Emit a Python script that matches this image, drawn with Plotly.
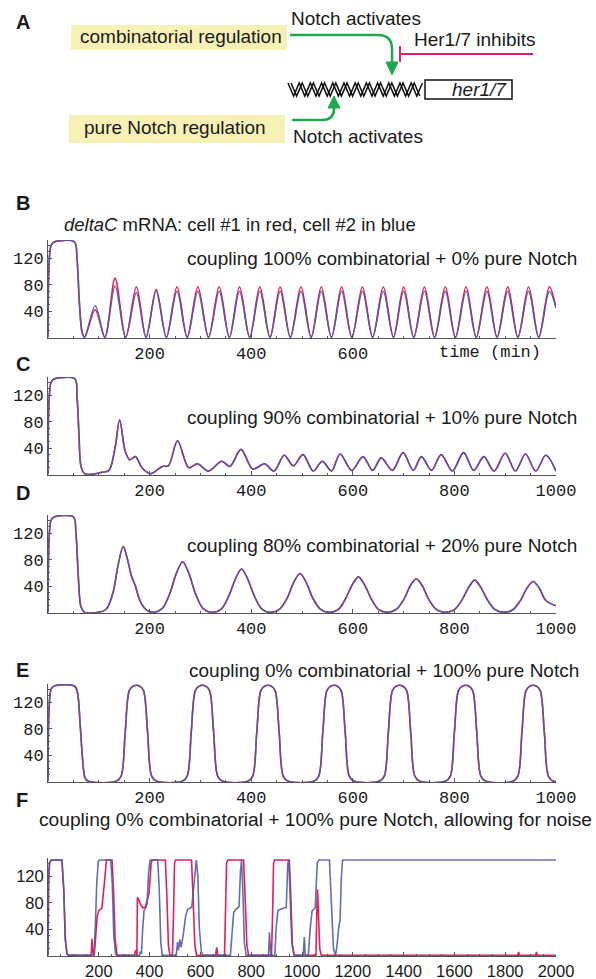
import plotly.graph_objects as go

W, H = 596, 979

# ---------------- data ----------------
# Panel B (oscillation), shared time points for both cells
B_T = [0, 2, 6, 12, 52, 57, 62, 67, 72,
       93, 112, 132, 153, 174, 193, 213, 233, 254, 274, 295, 316, 337, 357,
       377, 397, 417, 437, 457, 477, 498, 518, 538, 558, 578, 598, 619, 639,
       660, 680, 700, 720, 741, 761, 782, 802, 823, 843, 864, 884, 905, 925,
       946, 966, 987, 1000]
B_BLUE = [0, 110, 140, 145, 145, 120, 50, 8, 0,
          48, 0, 78, 0, 68, 0, 71, 0, 70, 0, 70, 0, 70, 0,
          70, 0, 70, 0, 70, 0, 70, 0, 70, 0, 70, 0, 70, 0,
          70, 0, 70, 0, 70, 0, 70, 0, 70, 0, 70, 0, 70, 0,
          70, 0, 70, 45]
B_RED = [0, 110, 140, 145, 145, 120, 50, 8, 0,
         42, 0, 90, 0, 77, 0, 73, 0, 77, 0, 77, 0, 77, 0,
         77, 0, 77, 0, 77, 0, 77, 0, 77, 0, 77, 0, 77, 0,
         77, 0, 77, 0, 77, 0, 77, 0, 77, 0, 77, 0, 77, 0,
         77, 0, 77, 45]

# Panel C (both cells almost identical)
C_T = [0, 2, 6, 12, 53, 57, 61, 65, 72, 85, 105, 120, 132, 141, 152, 161, 172,
       185, 202, 225, 237, 255, 277, 294, 316, 342, 358, 380, 403, 426, 445,
       465, 483, 502, 522, 540, 558, 575, 598, 620, 639, 656, 678, 699, 719,
       735, 755, 774, 796, 818, 838, 858, 878, 900, 920, 940, 960, 980, 1000]
C_V = [0, 110, 140, 145, 145, 120, 60, 12, 1, 0, 3, 6, 40, 83, 35, 22, 27,
       10, 1, 12, 13, 51, 10, 16, 5, 20, 12, 38, 8, 16, 5,
       29, 13, 30, 5, 20, 5, 31, 6, 27, 6, 25, 6, 33, 6,
       27, 6, 30, 5, 33, 6, 27, 5, 32, 5, 31, 5, 29, 5]

# Panel D (damped, slower oscillation)
D_T = [0, 2, 6, 12, 50, 55, 60, 65, 72, 100, 115, 128, 138, 148, 156, 164,
       172, 182, 195, 207,
       225, 240, 253, 265, 277, 290, 305, 323,
       341, 356, 369, 381, 393, 406, 421, 438,
       456, 471, 484, 496, 508, 521, 536, 553,
       571, 586, 599, 611, 623, 636, 651, 668,
       685, 700, 713, 725, 737, 750, 765, 782,
       800, 815, 828, 840, 852, 865, 880, 897,
       915, 930, 943, 955, 967, 980, 1000]
D_V = [0, 110, 140, 145, 145, 120, 50, 8, 0, 0, 5, 30, 72, 100, 82, 56,
       40, 16, 3, 0,
       6, 29, 60, 77, 60, 29, 6, 0,
       5, 25, 51, 66, 51, 25, 5, 0,
       5, 22, 46, 59, 46, 22, 5, 0,
       4, 21, 42, 54, 42, 21, 4, 0,
       4, 19, 40, 51, 40, 19, 4, 0,
       4, 19, 38, 49, 38, 19, 4, 0,
       4, 18, 37, 47, 37, 18, 10]

# Panel E (saturating pulses)
E_T = [0, 2, 6, 12, 52, 58, 63, 68, 73, 80,
       134, 144, 152, 160, 168, 180, 188, 196, 204, 214,
       264, 274, 282, 290, 298, 310, 318, 326, 334, 344,
       393, 403, 411, 419, 427, 439, 447, 455, 463, 473,
       523, 533, 541, 549, 557, 569, 577, 585, 593, 603,
       652, 662, 670, 678, 686, 698, 706, 714, 722, 732,
       782, 792, 800, 808, 816, 828, 836, 844, 852, 862,
       915, 925, 933, 941, 949, 961, 969, 977, 985, 995, 1000]
E_V = [0, 110, 140, 145, 145, 135, 90, 35, 5, 0,
       0, 8, 75, 138, 145, 145, 138, 75, 8, 0,
       0, 8, 75, 138, 145, 145, 138, 75, 8, 0,
       0, 8, 75, 138, 145, 145, 138, 75, 8, 0,
       0, 8, 75, 138, 145, 145, 138, 75, 8, 0,
       0, 8, 75, 138, 145, 145, 138, 75, 8, 0,
       0, 8, 75, 138, 145, 145, 138, 75, 8, 0,
       0, 8, 75, 138, 145, 145, 138, 75, 8, 0, 0]

# Panel F (noisy, two cells differ)
F_BLUE_T = [0, 2, 6, 12, 55, 62, 68, 75, 80,
            180, 186, 192, 198, 205, 247, 253, 259, 266, 272,
            360, 364, 368, 372, 378, 384, 390, 396, 402, 432, 438, 444, 450,
            505, 510, 514, 519, 524, 532, 542, 550, 566, 576, 584, 590, 596, 604, 612,
            718, 724, 731, 740, 752, 758, 762, 767, 773, 780,
            868, 872, 877, 893, 898, 905, 915, 938, 944, 948, 953, 960, 968,
            1005, 1009, 1013, 1025, 1032, 1040, 1052, 1060, 1066, 1108, 1115,
            1124, 1132, 1138, 1144, 1150, 1155, 1160, 2000]
F_BLUE_V = [0, 110, 140, 145, 145, 100, 25, 2, 0,
            0, 40, 110, 143, 145, 145, 110, 30, 2, 0,
            0, 6, 2, 35, 68, 72, 78, 125, 145, 145, 100, 20, 0,
            0, 20, 8, 24, 12, 30, 60, 70, 73, 110, 145, 120, 40, 5, 0,
            0, 35, 65, 70, 74, 130, 145, 100, 20, 0,
            0, 35, 0, 0, 40, 68, 70, 73, 140, 145, 100, 20, 0,
            0, 28, 0, 0, 40, 68, 72, 140, 145, 145, 90,
            10, 0, 15, 40, 55, 120, 145, 145]
F_RED_T = [0, 2, 6, 12, 55, 62, 68, 75, 80,
           170, 173, 176, 182, 188, 194, 200, 212, 222, 230, 252, 258, 264, 272,
           340, 346, 350, 352, 358, 366, 374, 384, 398, 406, 410, 462, 468, 474, 480,
           490, 494, 498, 502, 565, 571, 578, 585,
           660, 664, 668,
           695, 699, 703, 707, 770, 776, 783, 790,
           880, 884, 888, 892, 950, 956, 962, 970,
           1055, 1058, 1061, 1065, 1070, 1076,
           1850, 1853, 1856, 1920, 1923, 1926, 2000]
F_RED_V = [0, 110, 140, 145, 145, 100, 25, 2, 0,
           0, 25, 5, 0, 30, 60, 68, 72, 110, 145, 145, 100, 25, 0,
           0, 8, 0, 88, 84, 76, 72, 74, 95, 140, 145, 145, 90, 15, 0,
           0, 60, 140, 145, 145, 90, 15, 0,
           0, 12, 0,
           0, 60, 140, 145, 145, 90, 15, 0,
           0, 60, 140, 145, 145, 90, 15, 0,
           0, 60, 100, 60, 10, 0,
           0, 5, 0, 0, 5, 0, 0]

Y_TICKS = [40, 80, 120]
X_TICKS = [200, 400, 600, 800, 1000]
F_X_TICKS = [200, 400, 600, 800, 1000, 1200, 1400, 1600, 1800, 2000]

PANEL_TEXT = {
    "B": "coupling 100% combinatorial + 0% pure Notch",
    "C": "coupling 90% combinatorial + 10% pure Notch",
    "D": "coupling 80% combinatorial + 20% pure Notch",
    "E": "coupling 0% combinatorial + 100% pure Notch",
    "F": "coupling 0% combinatorial + 100% pure Notch, allowing for noise",
}

RED = "#e31e5a"
BLUE = "#4f5aa0"
GREEN = "#1ea84f"
AXIS = "#555555"
TXT = "#1a1a1a"
SANS = "Liberation Sans, Arial, sans-serif"
MONO = "Liberation Mono, Courier New, monospace"


def px(x):
    return x / W


def py(y):
    return 1 - y / H


fig = go.Figure()

# panel geometry in window pixels (top, bottom of plot area)
panels = [
    ("B", 240, 338, B_T, B_RED, B_T, B_BLUE, 1000, "spline"),
    ("C", 377, 475, C_T, C_V, C_T, C_V, 1000, "spline"),
    ("D", 515, 613, D_T, D_V, D_T, D_V, 1000, "spline"),
    ("E", 684, 782, E_T, E_V, E_T, E_V, 1000, "spline"),
    ("F", 858, 956, F_RED_T, F_RED_V, F_BLUE_T, F_BLUE_V, 2000, "linear"),
]

X0, X1 = 48, 556
layout_axes = {}
for i, (name, top, bot, rt, rv, bt, bv, xmax, shape) in enumerate(panels, start=1):
    xa = "x" if i == 1 else f"x{i}"
    ya = "y" if i == 1 else f"y{i}"
    line_kw = dict(shape=shape, smoothing=0.9) if shape == "spline" else dict(shape="linear")
    fig.add_trace(go.Scatter(x=rt, y=rv, mode="lines", xaxis=xa, yaxis=ya,
                             line=dict(color=RED, width=1.6, **line_kw),
                             hoverinfo="skip"))
    fig.add_trace(go.Scatter(x=bt, y=bv, mode="lines", xaxis=xa, yaxis=ya,
                             line=dict(color=BLUE, width=1.6, **line_kw),
                             opacity=0.88, hoverinfo="skip"))
    is_f = name == "F"
    tick_font = dict(family=SANS if is_f else MONO, size=16.5 if is_f else 17, color=TXT)
    if name == "B":
        xt = X_TICKS[:4]
        xtt = ["200", "400", "600", ""]
    elif is_f:
        xt = F_X_TICKS
        xtt = [str(v) for v in F_X_TICKS]
    else:
        xt = X_TICKS
        xtt = [str(v) for v in X_TICKS]
    xkey = "xaxis" if i == 1 else f"xaxis{i}"
    ykey = "yaxis" if i == 1 else f"yaxis{i}"
    layout_axes[xkey] = dict(
        domain=[px(X0), px(X1)], anchor=ya, range=[0, xmax],
        showline=True, linecolor=AXIS, linewidth=1, showgrid=False, zeroline=False,
        tickmode="array", tickvals=xt, ticktext=xtt, ticks="inside", ticklen=4,
        tickcolor=AXIS, tickfont=tick_font, automargin=False,
        minor=dict(ticks="inside", ticklen=2, tickcolor=AXIS, dtick=50, tick0=0, showgrid=False),
    )
    layout_axes[ykey] = dict(
        domain=[py(bot), py(top)], anchor=xa, range=[-1, 148],
        showline=True, linecolor=AXIS, linewidth=1, showgrid=False, zeroline=False,
        tickmode="array", tickvals=Y_TICKS, ticktext=[str(v) for v in Y_TICKS],
        ticks="inside", ticklen=4, tickcolor=AXIS, tickfont=tick_font, automargin=False,
        minor=dict(ticks="inside", ticklen=2, tickcolor=AXIS, dtick=10, tick0=0, showgrid=False),
    )

annotations = []
shapes = []


def text(x, y, s, size=19.5, anchor="left", family=SANS, color=TXT):
    annotations.append(dict(x=px(x), y=py(y), xref="paper", yref="paper", text=s,
                            showarrow=False, xanchor=anchor, yanchor="middle",
                            borderpad=0,
                            font=dict(family=family, size=size, color=color)))


def path_str(cmds):
    out = []
    for c, pts in cmds:
        if c == "Z":
            out.append("Z")
        elif c == "Q":
            coords = " ".join(f"{px(x):.5f},{py(y):.5f}" for x, y in pts)
            out.append(f"Q {coords}")
        else:
            for x, y in pts:
                out.append(f"{c} {px(x):.5f},{py(y):.5f}")
    return " ".join(out)


# ---------------- panel A diagram ----------------
shapes.append(dict(type="rect", xref="paper", yref="paper", x0=px(71), x1=px(287),
                   y0=py(50), y1=py(25), fillcolor="#f8f1b6", line=dict(width=0), layer="below"))
shapes.append(dict(type="rect", xref="paper", yref="paper", x0=px(69), x1=px(285),
                   y0=py(143), y1=py(115), fillcolor="#f8f1b6", line=dict(width=0), layer="below"))
# green arrow from combinatorial regulation
shapes.append(dict(type="path", xref="paper", yref="paper",
                   path=path_str([("M", [(290, 35)]), ("L", [(378, 35)]),
                                  ("Q", [(392, 35), (392, 49)]), ("L", [(392, 64)])]),
                   line=dict(color=GREEN, width=2.5)))
shapes.append(dict(type="path", xref="paper", yref="paper",
                   path=path_str([("M", [(386, 62)]), ("L", [(398, 62), (392, 75)]), ("Z", [])]),
                   fillcolor=GREEN, line=dict(color=GREEN, width=1)))
# green arrow from pure Notch regulation
shapes.append(dict(type="path", xref="paper", yref="paper",
                   path=path_str([("M", [(292, 120)]), ("L", [(322, 120)]),
                                  ("Q", [(334, 120), (334, 109)]), ("L", [(334, 106)])]),
                   line=dict(color=GREEN, width=2.5)))
shapes.append(dict(type="path", xref="paper", yref="paper",
                   path=path_str([("M", [(328, 108)]), ("L", [(340, 108), (334, 96)]), ("Z", [])]),
                   fillcolor=GREEN, line=dict(color=GREEN, width=1)))
# red inhibition
shapes.append(dict(type="line", xref="paper", yref="paper", x0=px(400), x1=px(533),
                   y0=py(54), y1=py(54), line=dict(color=RED, width=2)))
shapes.append(dict(type="line", xref="paper", yref="paper", x0=px(400), x1=px(400),
                   y0=py(46), y1=py(62), line=dict(color=RED, width=2)))
# DNA zigzag (double strand)
for off in (0, 3):
    pts = []
    x = 288 + off
    k = 0
    while x <= 424:
        pts.append((x, 83 if k % 2 == 0 else 96))
        x += 5.6
        k += 1
    shapes.append(dict(type="path", xref="paper", yref="paper",
                       path=path_str([("M", [pts[0]]), ("L", pts[1:])]),
                       line=dict(color="#111111", width=1.5)))
shapes.append(dict(type="rect", xref="paper", yref="paper", x0=px(425), x1=px(512),
                   y0=py(99), y1=py(80), line=dict(color="#111111", width=1.5)))

text(15, 22, "<b>A</b>", size=20)
text(290, 18, "Notch activates", size=19)
text(79, 37, "combinatorial regulation", size=19)
text(413, 39, "Her1/7 inhibits", size=19)
text(479, 90, "<i>her1/7</i>", size=19, anchor="center")
text(83, 128, "pure Notch regulation", size=19)
text(292, 136, "Notch activates", size=19)

# ---------------- panel letters and captions ----------------
text(15, 203, "<b>B</b>", size=20)
text(63, 224, "<i>deltaC</i> mRNA: cell #1 in red, cell #2 in blue", size=18.5)
text(578, 258, PANEL_TEXT["B"], size=19, anchor="right")
text(438, 352, "time (min)", size=17, family=MONO)
text(15, 364, "<b>C</b>", size=20)
text(578, 418, PANEL_TEXT["C"], size=19, anchor="right")
text(15, 493, "<b>D</b>", size=20)
text(578, 545, PANEL_TEXT["D"], size=19, anchor="right")
text(15, 670, "<b>E</b>", size=20)
text(580, 670, PANEL_TEXT["E"], size=19, anchor="right")
text(15, 800, "<b>F</b>", size=20)
text(38, 819, PANEL_TEXT["F"], size=19.2, anchor="left")

fig.update_layout(
    width=W, height=H, autosize=False,
    margin=dict(l=0, r=0, t=0, b=0, pad=0, autoexpand=False),
    paper_bgcolor="white", plot_bgcolor="white",
    showlegend=False,
    font=dict(family=SANS, color=TXT),
    annotations=annotations, shapes=shapes,
    **layout_axes,
)

# remove the default 8px page margin so the figure fills the 596x979 window exactly
POST = ("document.body.style.margin='0';document.body.style.padding='0';"
        "document.body.style.overflow='hidden';"
        "var gd=document.getElementById('{plot_id}');"
        "Plotly.relayout(gd,{width:%d,height:%d});" % (W, H))

fig.write_html("out.html", post_script=POST,
               config={"responsive": False, "displayModeBar": False, "staticPlot": True})
